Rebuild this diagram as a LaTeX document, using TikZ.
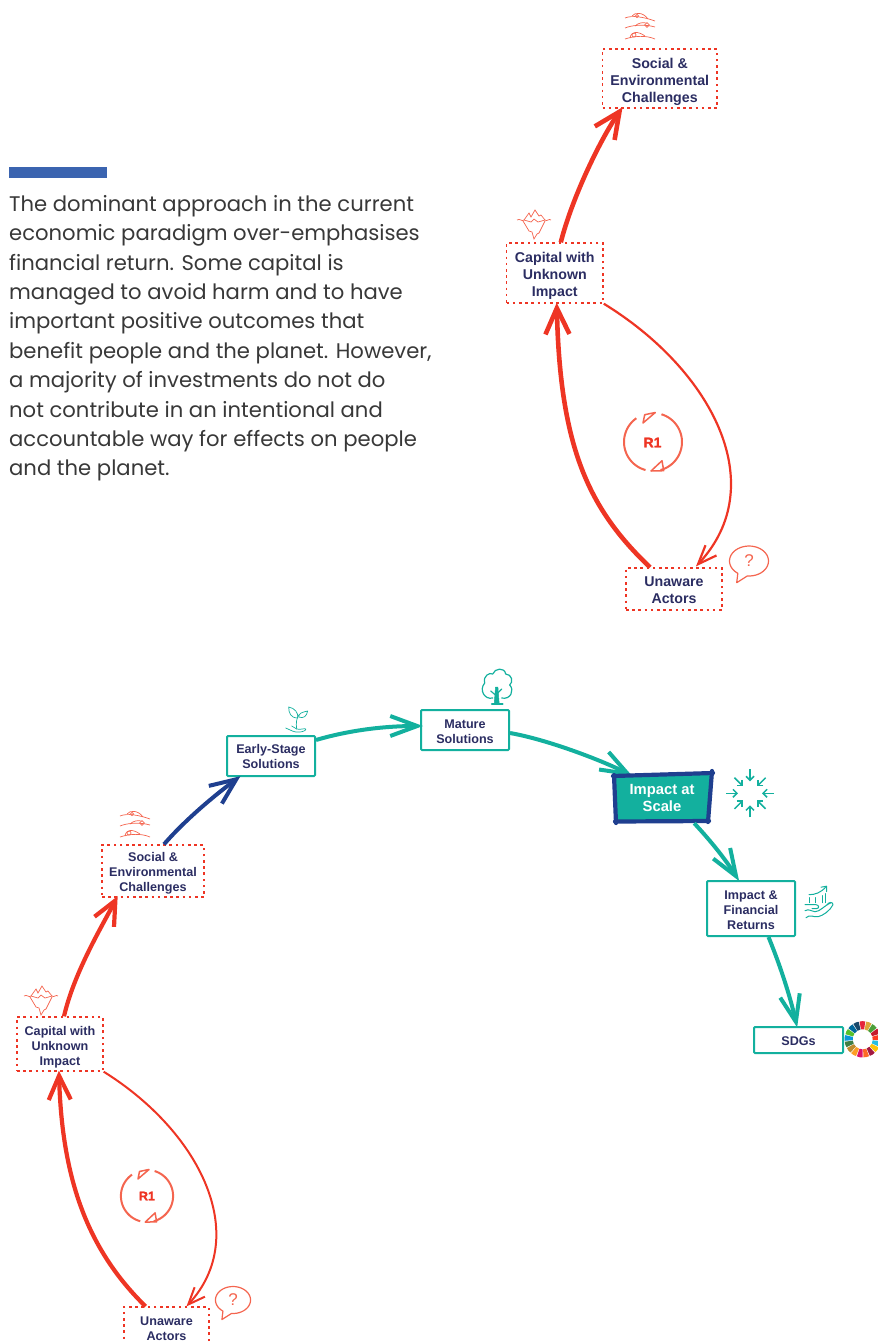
\documentclass[tikz,border=0pt]{standalone}
\usepackage{fontspec}
\setmainfont{Liberation Sans}
\newfontfamily\bodyfont{Poppins}
\newfontfamily\rfont[FakeBold=1.6]{Liberation Sans Bold}
\usetikzlibrary{arrows.meta}
\definecolor{teal1}{HTML}{13B09E}
\definecolor{red1}{HTML}{EE3524}
\definecolor{redicon}{HTML}{F4654F}
\definecolor{navytext}{HTML}{2B2D62}
\definecolor{navy1}{HTML}{1F3F8F}
\definecolor{bar1}{HTML}{3B64B0}
\newcommand{\sk}[1]{\rule{0pt}{#1pt}}
\tikzset{
 dotbox/.style={draw=red1,line width=1.4pt,dash pattern=on 2.6pt off 3.6pt,inner sep=0pt,align=center,text=navytext},
 labA/.style={font=\fontsize{14.2}{17}\selectfont\bfseries},
 labB/.style={font=\fontsize{12.6}{15}\selectfont\bfseries},
 tealbox/.style={draw=teal1,line width=2pt,rounded corners=1pt,inner sep=0pt,align=center,text=navytext,labB},
 thickred/.style={draw=red1,line width=4.6pt,shorten >=-3pt,-{Straight Barb[length=26pt,width=24pt]}},
 thinred/.style={draw=red1,line width=2.2pt,shorten >=-1.5pt,-{Straight Barb[length=19pt,width=15pt]}},
 thickredb/.style={draw=red1,line width=4.2pt,shorten >=-3pt,-{Straight Barb[length=24pt,width=22pt]}},
 thinredb/.style={draw=red1,line width=2pt,shorten >=-1.5pt,-{Straight Barb[length=17pt,width=14pt]}},
 tealarrow/.style={draw=teal1,line width=4pt,shorten >=-3pt,-{Straight Barb[length=27pt,width=20pt]}},
 navyarrow/.style={draw=navy1,line width=4pt,shorten >=-3pt,-{Straight Barb[length=26pt,width=22pt]}},
 thinicon/.style={draw=redicon,line width=.7pt},
 tealicon/.style={draw=teal1,line width=1pt,line cap=round,line join=round},
 handsicon/.pic={
  \draw[thinicon] (-15,-8) .. controls (-8,-11) and (4,-9) .. (15,-5);
  \draw[thinicon] (-8,-10) .. controls (-5,-14) and (3,-14) .. (8,-7);
  \draw[thinicon] (-3,-10) circle (1.7);
  \draw[thinicon] (-15,2) .. controls (-8,-1) and (5,-2) .. (15,1);
  \draw[thinicon] (-5,0) .. controls (-2,-3) and (3,-4) .. (6,-3);
  \draw[thinicon] (7,-3.4) -- (9.4,-1) -- (7,1.4) -- (4.6,-1) -- cycle;
  \draw[thinicon] (-15,13) .. controls (-6,10) and (6,9) .. (15,13);
  \draw[thinicon] (-10,12) .. controls (-9,5) and (-2,5) .. (5,10);
  \draw[thinicon] (-6,9) circle (2);
 },
 icebergicon/.pic={
  \draw[thinicon] (-17,-4) .. controls (-14,-6) and (-12,-2) .. (-10,-4) -- (-5,-11) -- (-3,-7) -- (1,-14) -- (5,-8) -- (7,-9) -- (11,-4) .. controls (13,-2) and (15,-6) .. (17,-4);
  \draw[thinicon] (-10,-4) -- (-3,-2) -- (0,-5) -- (4,-2) -- (11,-4);
  \draw[thinicon] (-11,-3) -- (-5,7) -- (-2,8) -- (0,15) -- (3,10) -- (5,9) -- (11,-3);
 },
 bubbleicon/.pic={
  \draw[redicon,line width=1.2pt,line join=round] plot[smooth,samples=40,domain=-95:235] ({19.5*cos(\x)},{-15*sin(\x)}) -- (-12.3,21.7) -- cycle;
  \node[text=redicon,inner sep=0pt,font=\fontsize{17}{17}\selectfont] (-q) at (0,0) {?};
 },
 loopicon/.pic={
  \draw[redicon,line width=2pt] plot[smooth,samples=30,domain=73:-75] ({29*cos(\x)},{-29*sin(\x)});
  \draw[redicon,line width=2pt] plot[smooth,samples=30,domain=255:125] ({29*cos(\x)},{-29*sin(\x)});
  \draw[redicon,line width=1.5pt,line join=round] (-10,-19) -- (2.3,-29.5) -- (-8.3,-27.3) -- cycle;
  \draw[redicon,line width=1.5pt,line join=round] (-2,29) -- (10.7,28.7) -- (9,18.7) -- cycle;
 },
}
\begin{document}
\begin{tikzpicture}[x=1pt,y=-1pt]
\useasboundingbox (0,0) rectangle (878,1342);
% top-left bar and text
\fill[bar1] (9,167) rectangle (107,178);
\node[anchor=north west,inner sep=0pt,align=left,text=black!78,font=\bodyfont\fontsize{21.15}{29.4}\selectfont] (body) at (9,195) {The dominant approach in the current\\economic paradigm over-emphasises\\financial return. Some capital is\\managed to avoid harm and to have\\important positive outcomes that\\benefit people and the planet. However,\\a majority of investments do not do\\not contribute in an intentional and\\accountable way for effects on people\\and the planet.};
% top loop
\node[dotbox,labA,minimum width=114.5pt,minimum height=59pt] (socA) at (659.8,78.5) {\sk{16.2}Social \&\\Environmental\\Challenges};
\node[dotbox,labA,minimum width=96.5pt,minimum height=60pt] (capA) at (554.8,273) {\sk{16.2}Capital with\\Unknown\\Impact};
\node[dotbox,labA,minimum width=96pt,minimum height=42pt] (unaA) at (674,589) {\sk{12.2}Unaware\\Actors};
\draw[thickred] ([xshift=6pt]capA.north) .. controls (572,198) and (600,140) .. ([xshift=19pt,yshift=-1pt]socA.south west);
\draw[thickred] ([xshift=-24pt]unaA.north) .. controls (590,510) and (560,450) .. ([xshift=2pt,yshift=-2pt]capA.south);
\draw[thinred] (capA.south east) .. controls (712,370) and (772,485) .. ([xshift=23pt,yshift=2pt]unaA.north);
\pic (loopA) at (653,442) {loopicon};
\node[text=red1,inner sep=0pt,font=\rfont\fontsize{14}{14}\selectfont] (rA) at (652.5,442.5) {R1};
\pic at (640,26) {handsicon};
\pic at (534,224) {icebergicon};
\pic (bubA) at (749,561) {bubbleicon};
% bottom chain
\node[dotbox,labB,minimum width=102pt,minimum height=52pt] (socB) at (153,871) {\sk{14}Social \&\\Environmental\\Challenges};
\node[dotbox,labB,minimum width=86pt,minimum height=54pt] (capB) at (60,1044) {\sk{15}Capital with\\Unknown\\Impact};
\node[dotbox,labB,minimum width=85pt,minimum height=36pt] (unaB) at (166.5,1325) {\sk{16}Unaware\\Actors};
\node[tealbox,minimum width=88pt,minimum height=40pt] (early) at (271,756) {\sk{11}Early-Stage\\Solutions};
\node[tealbox,minimum width=88pt,minimum height=40pt] (mature) at (465,730) {\sk{13}Mature\\Solutions};
\node[tealbox,minimum width=88pt,minimum height=55pt] (fin) at (751,908.5) {\sk{13}Impact \&\\Financial\\Returns};
\node[tealbox,minimum width=89pt,minimum height=26pt] (sdg) at (798.5,1040) {\sk{11}SDGs};
% connector into impact at scale, running behind the box
\coordinate (scalein) at (630,775);
\draw[tealarrow] ([yshift=-3pt]mature.east) .. controls (550,740) and (608,763) .. (scalein);
% impact at scale
\fill[teal1] (613,775) -- (712,772) -- (708,821) -- (616,822) -- cycle;
\draw[navy1,line width=4.2pt,line cap=round] (613,776) -- (713,773);
\draw[navy1,line width=4.2pt,line cap=round] (712,771) -- (708,822);
\draw[navy1,line width=4.2pt,line cap=round] (615,821.5) -- (709,821);
\draw[navy1,line width=4.2pt,line cap=round] (614,775) -- (616,823);
\node[text=white,align=center,inner sep=0pt,font=\fontsize{14.8}{17.5}\selectfont\bfseries,minimum width=96pt,minimum height=46pt] (scale) at (662,798) {Impact at\\Scale};
% connectors bottom
\draw[thickredb] ([xshift=4pt]capB.north) .. controls (74,973) and (101,928) .. ([xshift=15pt,yshift=-1pt]socB.south west);
\draw[thickredb] ([xshift=-21pt]unaB.north) .. controls (88,1250) and (62,1180) .. ([xshift=-1pt,yshift=-2pt]capB.south);
\draw[thinredb] (capB.south east) .. controls (199,1131) and (252,1235) .. ([xshift=21pt,yshift=1pt]unaB.north);
\draw[navyarrow] ([xshift=11pt]socB.north) .. controls (185,820) and (215,795) .. ([xshift=12pt,yshift=-1pt]early.south west);
\draw[tealarrow] ([yshift=37pt]early.south east) .. controls (350,730) and (385,726) .. ([yshift=4pt]mature.west);
\draw[tealarrow] ([xshift=-16pt,yshift=-2pt]scale.south east) .. controls (708,838) and (724,857) .. ([xshift=-13.5pt,yshift=1.5pt]fin.north);
\draw[tealarrow] ([xshift=17.5pt]fin.south) .. controls (782,970) and (791,1000) .. ([xshift=-2pt,yshift=1.5pt]sdg.north);
\pic (loopB) [scale=.9] at (147,1196) {loopicon};
\node[text=red1,inner sep=0pt,font=\rfont\fontsize{12.5}{13}\selectfont] (rB) at (147,1196) {R1};
\pic at (135,824) {handsicon};
\pic at (41,1000) {icebergicon};
\pic (bubB) [scale=.9] at (233,1300) {bubbleicon};
% sprout
\begin{scope}[shift={(296.7,720)}]
 \draw[tealicon,line width=.7pt] (0,9) .. controls (-1,3) and (0,-2) .. (2,-5);
 \draw[tealicon,line width=.7pt] (1,-2) .. controls (-6,-2) and (-8,-7) .. (-8,-13) .. controls (-2,-12) and (2,-7) .. (1,-2);
 \draw[tealicon,line width=.7pt] (2,-3) .. controls (2,-7) and (6,-8) .. (11,-9) .. controls (10,-4) and (7,-1) .. (2,-3);
 \draw[tealicon,line width=.7pt] (-11,8) .. controls (-6,10) and (-2,13) .. (3,12) .. controls (6,12) and (10,10) .. (9,9) .. controls (8,8) and (4,10) .. (0,9) -- (-5,6);
\end{scope}
% tree
\begin{scope}[shift={(496.7,690)}]
 \draw[tealicon,line width=1.2pt] (-4,8) .. controls (-12,10) and (-18,0) .. (-12,-7) .. controls (-14,-14) and (-7,-18) .. (-4,-16) .. controls (-2,-22) and (8,-23) .. (9,-16) .. controls (15,-16) and (17,-8) .. (13,-5) .. controls (18,0) and (14,10) .. (5,8);
 \draw[tealicon,line width=1.6pt] (-5,14) -- (6,14);
 \draw[teal1,fill=teal1,line width=.5pt] (-2.5,14) -- (-1.2,-3) -- (1.2,-3) -- (2.5,14) -- cycle;
 \draw[tealicon,line width=1.2pt] (0,6) -- (-6,1);
 \draw[tealicon,line width=1.2pt] (0,4) -- (5,-1);
\end{scope}
% converging arrows
\begin{scope}[shift={(750,793.3)}]
 \foreach \a/\i/\o in {0/12/24,45/10/22,90/12/24,135/10/22,180/12/24,225/10/22,270/12/24,315/10/22}
  \draw[draw=teal1,line width=1.5pt,-{Straight Barb[length=4pt,width=8pt]}] (\a:\o) -- (\a:\i);
\end{scope}
% hand with chart
\begin{scope}[shift={(819,901.7)}]
 \draw[tealicon] (-10,-4) -- (-10,1);
 \draw[tealicon] (-3.5,-4) -- (-3.5,1);
 \draw[tealicon] (3,-6) -- (3,1);
 \draw[tealicon] (6,-8) -- (6,1);
 \draw[tealicon] (-10,-7) .. controls (-4,-7) and (2,-9) .. (7,-15);
 \draw[tealicon] (2,-14.5) -- (7.5,-15.5) -- (7.5,-10);
 \draw[tealicon] (-14,3) -- (-3,3) .. controls (0,3) and (1,7) .. (-3,7) -- (-7,7);
 \draw[tealicon] (-14,9) .. controls (-10,7) and (-9,9) .. (-4,10) .. controls (1,10) and (5,4) .. (12,1);
 \draw[tealicon] (-13,16) .. controls (-9,12) and (-5,16) .. (-1,15) .. controls (4,14) and (11,9) .. (14,3) .. controls (14,0) and (10,0) .. (8,3);
\end{scope}
% SDG wheel
\begin{scope}[shift={(862.7,1039.3)}]
 \foreach \c [count=\i] in {E5243B,DDA63A,4C9F38,C5192D,FF3A21,26BDE2,FCC30B,A21942,FD6925,DD1367,FD9D24,BF8B2E,3F7E44,0A97D9,56C02B,00689D,19486A}{
  \definecolor{wedgec}{HTML}{\c}
  \pgfmathsetmacro\aa{-100+(\i-1)*360/17}
  \pgfmathsetmacro\ab{\aa+360/17-3}
  \pgfmathsetmacro\am{(\aa+\ab)/2}
  \fill[wedgec] (\aa:18) -- (\am:18.2) -- (\ab:18) -- (\ab:10) -- (\aa:10) -- cycle;
 }
\end{scope}
\end{tikzpicture}
\end{document}
